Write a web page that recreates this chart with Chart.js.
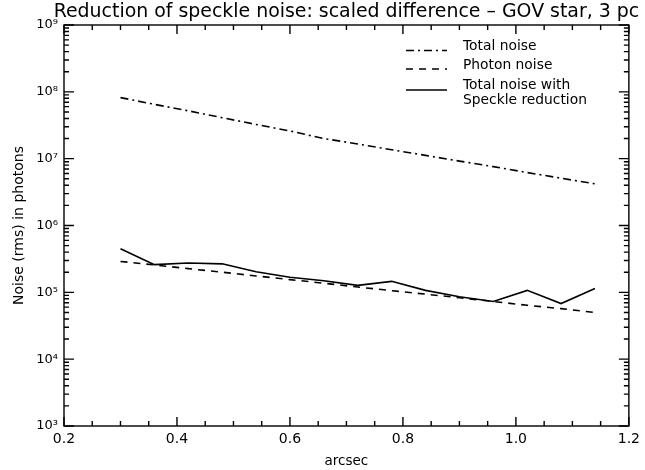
<!DOCTYPE html>
<html>
<head>
<meta charset="utf-8">
<script src="https://cdn.jsdelivr.net/npm/chart.js@4/dist/chart.umd.min.js"></script>
<style>
  html, body { margin: 0; padding: 0; background: #fff; }
  #wrap { width: 645px; height: 470px; position: relative; }
</style>
</head>
<body>
<div id="wrap"><canvas id="c" width="645" height="470"></canvas></div>
<script>
// ---- data ----
const arcsec = [0.30, 0.36, 0.42, 0.48, 0.54, 0.60, 0.66, 0.72, 0.78, 0.84, 0.90, 0.96, 1.02, 1.08, 1.14];
const totalNoise = [8.2e7, 6.5e7, 5.2e7, 4.1e7, 3.25e7, 2.6e7, 2.0e7, 1.66e7, 1.36e7, 1.12e7, 9.2e6, 7.6e6, 6.2e6, 5.1e6, 4.2e6];
const photonNoise = [2.9e5, 2.57e5, 2.26e5, 2.0e5, 1.76e5, 1.55e5, 1.37e5, 1.2e5, 1.06e5, 9.4e4, 8.3e4, 7.3e4, 6.4e4, 5.7e4, 5.0e4];
const speckleReduced = [4.5e5, 2.6e5, 2.75e5, 2.67e5, 2.03e5, 1.68e5, 1.49e5, 1.27e5, 1.46e5, 1.07e5, 8.6e4, 7.3e4, 1.07e5, 6.8e4, 1.14e5];
const xTickValues = [0.2, 0.4, 0.6, 0.8, 1.0, 1.2];
const yDecades = [1e3, 1e4, 1e5, 1e6, 1e7, 1e8, 1e9];
const seriesNames = ['Total noise', 'Photon noise', ['Total noise with', 'Speckle reduction']];
const titleText = 'Reduction of speckle noise: scaled difference \u2013 GOV star, 3 pc';
const xTitle = 'arcsec';
const yTitle = 'Noise (rms) in photons';

const FONT = '"DejaVu Sans", "Liberation Sans", sans-serif';
const sup = {'0':'\u2070','1':'\u00b9','2':'\u00b2','3':'\u00b3','4':'\u2074','5':'\u2075','6':'\u2076','7':'\u2077','8':'\u2078','9':'\u2079'};
const dashes = [[8, 4, 2, 4], [7, 6], []];

function pts(ys) { return arcsec.map((x, i) => ({ x: x, y: ys[i] })); }

function fitFont(ctx, text, base, target) {
  ctx.font = base + 'px ' + FONT;
  const w = ctx.measureText(text).width;
  return (base * target / w).toFixed(2) + 'px ' + FONT;
}

const framePlugin = {
  id: 'frame',
  afterDraw(chart) {
    const ctx = chart.ctx;
    const a = chart.chartArea;
    const xs = chart.scales.x, ys = chart.scales.y;
    ctx.save();
    ctx.strokeStyle = '#000';
    ctx.lineWidth = 1.4;
    ctx.setLineDash([]);
    ctx.strokeRect(a.left, a.top, a.right - a.left, a.bottom - a.top);
    ctx.beginPath();
    // x ticks (major every 0.2, minor every 0.05), bottom and top, inward
    for (let k = 0; k <= 20; k++) {
      const v = 0.2 + k * 0.05;
      const px = xs.getPixelForValue(v);
      const len = (k % 4 === 0) ? 9 : 5;
      ctx.moveTo(px, a.bottom); ctx.lineTo(px, a.bottom - len);
      ctx.moveTo(px, a.top); ctx.lineTo(px, a.top + len);
    }
    // y ticks (decades major, 2..9 minor), left and right, inward
    for (let d = 3; d <= 9; d++) {
      for (let m = 1; m <= 9; m++) {
        if (d === 9 && m > 1) break;
        const v = m * Math.pow(10, d);
        const py = ys.getPixelForValue(v);
        const len = (m === 1) ? 10 : 5;
        ctx.moveTo(a.left, py); ctx.lineTo(a.left + len, py);
        ctx.moveTo(a.right, py); ctx.lineTo(a.right - len, py);
      }
    }
    ctx.stroke();

    // title
    ctx.fillStyle = '#000';
    ctx.textAlign = 'center';
    ctx.textBaseline = 'middle';
    ctx.font = fitFont(ctx, titleText, 15, 586);
    ctx.fillText(titleText, (a.left + a.right) / 2, 12);

    // legend
    const lx0 = 406, lx1 = 447, tx = 463;
    const lineY = [50.5, 69, 90];
    const textY = [[46], [65], [85, 100.5]];
    ctx.font = fitFont(ctx, 'Speckle reduction', 13, 124);
    ctx.textAlign = 'left';
    chart.data.datasets.forEach((ds, i) => {
      ctx.beginPath();
      ctx.setLineDash(dashes[i]);
      ctx.lineWidth = 1.5;
      ctx.moveTo(lx0, lineY[i]); ctx.lineTo(lx1, lineY[i]);
      ctx.stroke();
      const name = seriesNames[i];
      const lines = Array.isArray(name) ? name : [name];
      lines.forEach((t, j) => ctx.fillText(t, tx, textY[i][j]));
    });
    ctx.restore();
  }
};

new Chart(document.getElementById('c'), {
  type: 'line',
  data: {
    datasets: [
      { label: 'Total noise', data: pts(totalNoise), borderDash: dashes[0] },
      { label: 'Photon noise', data: pts(photonNoise), borderDash: dashes[1] },
      { label: 'Total noise with Speckle reduction', data: pts(speckleReduced), borderDash: dashes[2] }
    ].map(d => Object.assign(d, { borderColor: '#000', borderWidth: 1.6, pointRadius: 0, tension: 0, fill: false }))
  },
  options: {
    responsive: false,
    animation: false,
    events: [],
    layout: { padding: { top: 25, right: 12, left: 0, bottom: 0 } },
    plugins: { legend: { display: false }, title: { display: false }, tooltip: { enabled: false } },
    scales: {
      x: {
        type: 'linear', min: 0.2, max: 1.2,
        afterBuildTicks(scale) { scale.ticks = xTickValues.map(v => ({ value: v })); },
        ticks: { color: '#000', font: { family: FONT, size: 14 }, padding: 5, maxRotation: 0,
                 callback: v => v.toFixed(1) },
        grid: { display: false, drawTicks: false },
        border: { display: false },
        title: { display: true, text: xTitle, color: '#000', font: { family: FONT, size: 13.5 }, padding: { top: 1, bottom: 0 } },
        afterFit(scale) { scale.height = 44; }
      },
      y: {
        type: 'logarithmic', min: 1e3, max: 1e9,
        afterBuildTicks(scale) { scale.ticks = yDecades.map(v => ({ value: v })); },
        ticks: { color: '#000', font: { family: FONT, size: 13 }, padding: 6, autoSkip: false,
                 callback: v => { const e = Math.round(Math.log10(v)); return '10' + String(e).split('').map(c => sup[c]).join(''); } },
        grid: { display: false, drawTicks: false },
        border: { display: false },
        title: { display: true, text: yTitle, color: '#000', font: { family: FONT, size: 14 }, padding: { top: 11, bottom: 0 } },
        afterFit(scale) { scale.width = 64; }
      }
    }
  },
  plugins: [framePlugin]
});
</script>
</body>
</html>
